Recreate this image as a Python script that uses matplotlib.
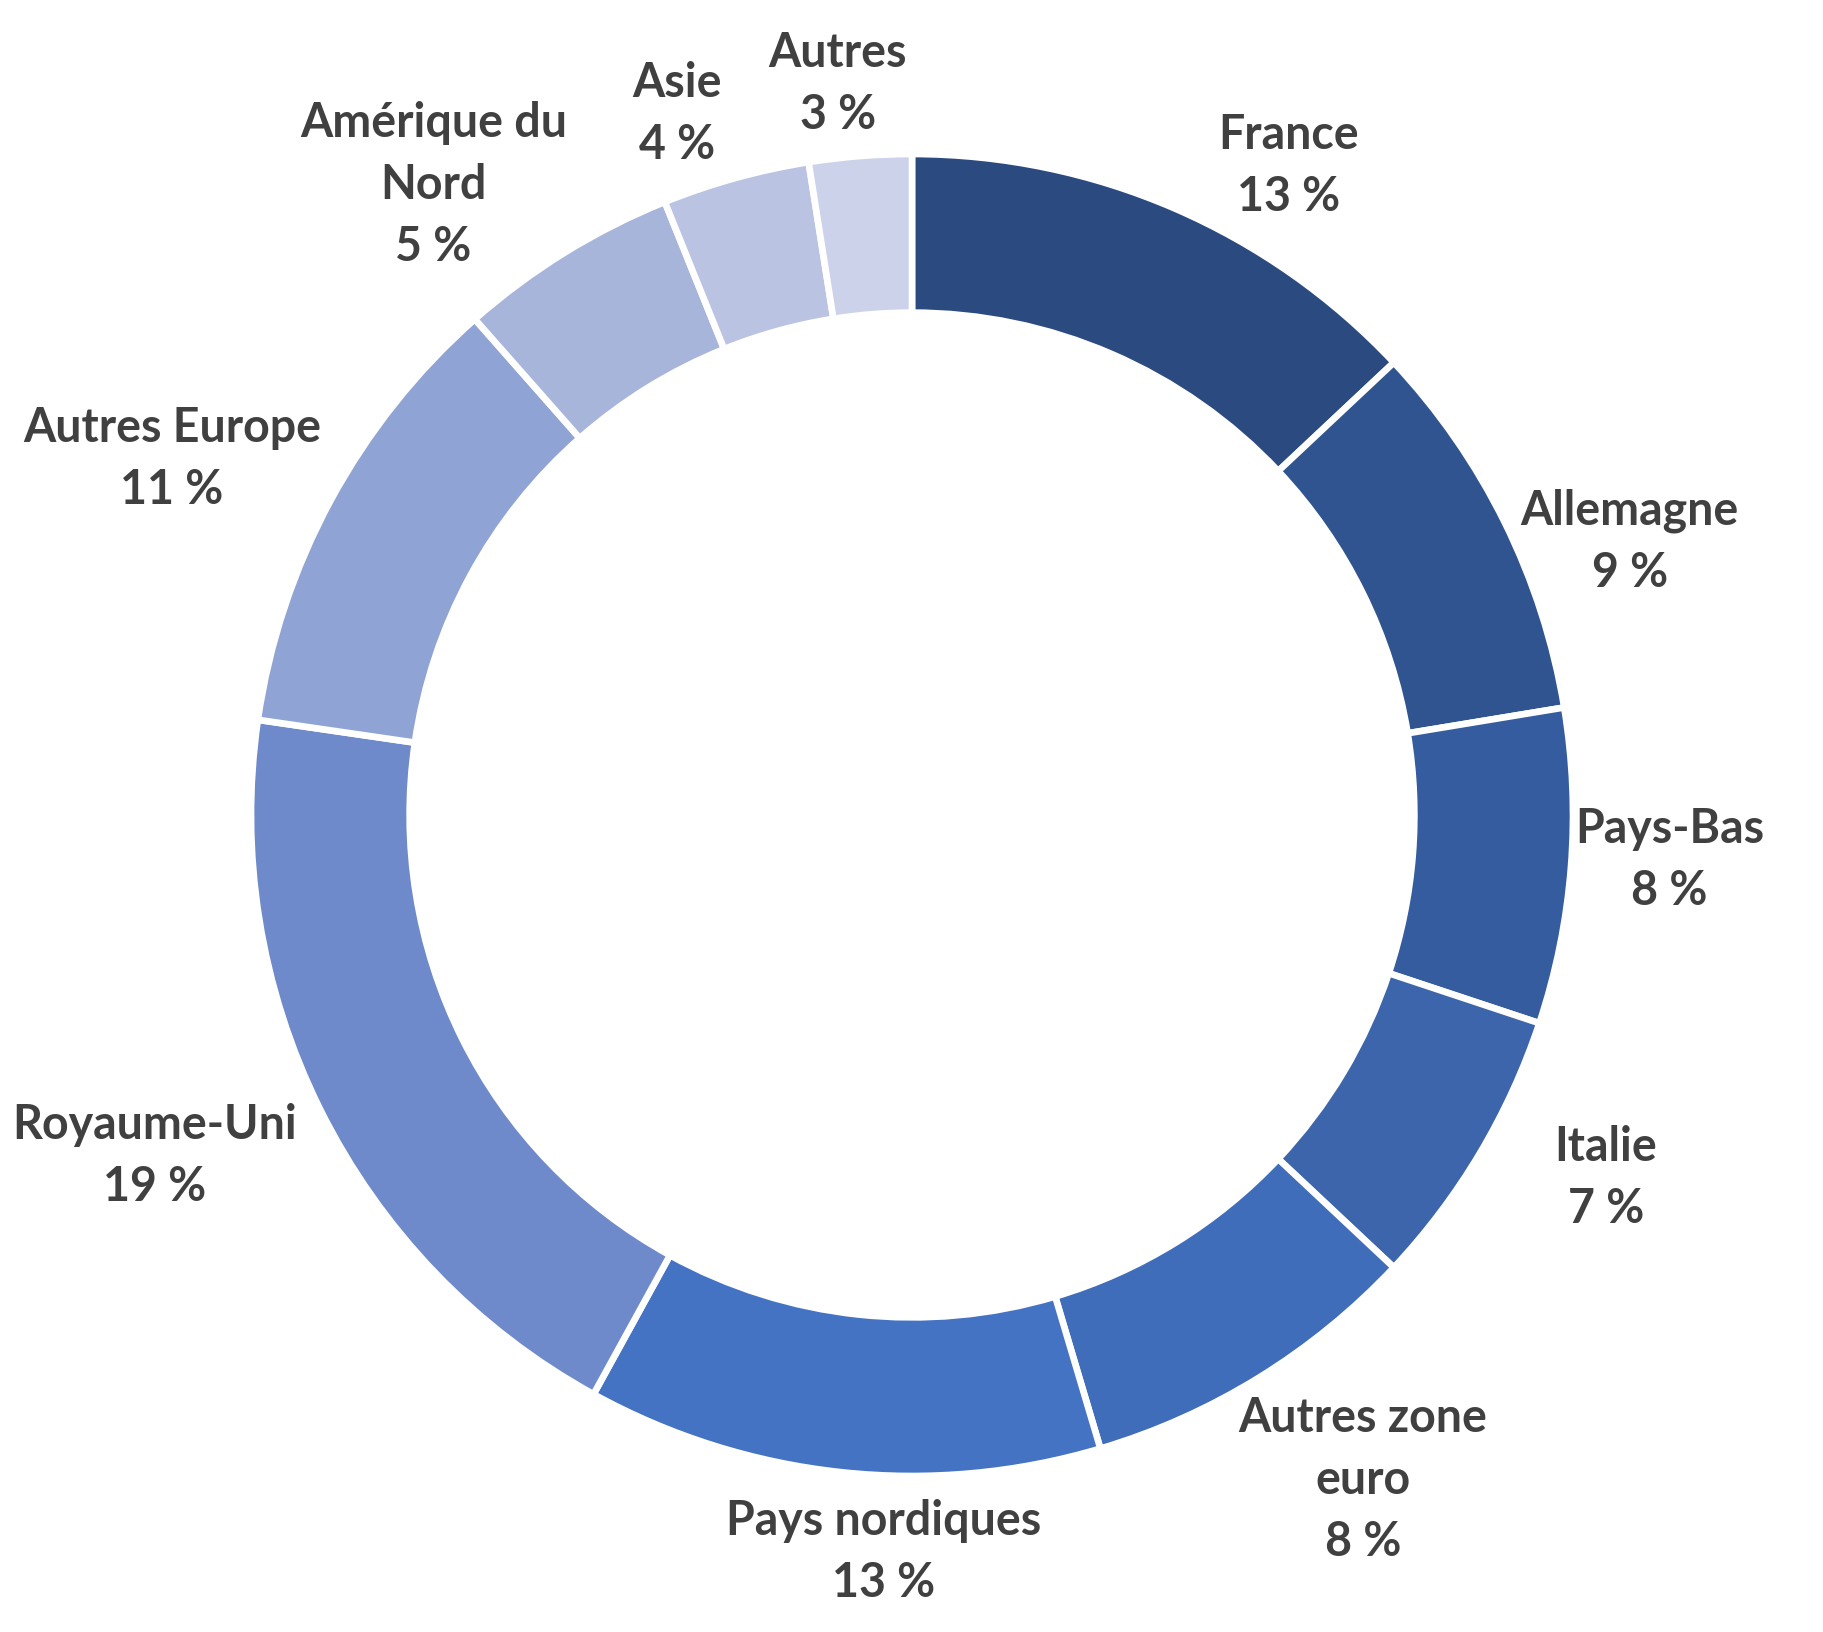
import numpy as np
import matplotlib
matplotlib.use("Agg")
import matplotlib.pyplot as plt

# Répartition géographique (en % du total)
pays = ["France", "Allemagne", "Pays-Bas", "Italie", "Autres zone\neuro",
        "Pays nordiques", "Royaume-Uni", "Autres Europe", "Amérique du\nNord",
        "Asie", "Autres"]
parts = [13.0, 9.4, 7.7, 6.9, 8.4, 12.6, 19.3, 11.2, 5.4, 3.6, 2.5]
etiquettes_pct = ["13 %", "9 %", "8 %", "7 %", "8 %", "13 %", "19 %", "11 %", "5 %", "4 %", "3 %"]

couleurs = ["#2B4A80", "#30548F", "#345C9F", "#3C65AC", "#406DB9", "#4573C4",
            "#6E8ACA", "#8FA4D4", "#A8B5DA", "#BAC3E2", "#CBD2E9"]

# placement des étiquettes (rayon relatif, décalage angulaire en degrés)
label_r = [1.137, 1.162, 1.148, 1.184, 1.215, 1.114, 1.256, 1.243, 1.198, 1.120, 1.113]
label_dec = [6.7, 5.4, -1.2, -3.2, -2.5, -3.9, 2.3, -2.7, -5.5, -3.0, -1.3]

W, H = 1824, 1633
cx, cy, R = 912, 816, 661

fig = plt.figure(figsize=(W / 100, H / 100), dpi=100)
ax = fig.add_axes([0, 0, 1, 1])

ax.pie(parts, colors=couleurs, startangle=90, counterclock=False, radius=1.0,
       wedgeprops=dict(width=0.24, edgecolor="white", linewidth=4.8),
       frame=True)
ax.set_xlim(-cx / R, (W - cx) / R)
ax.set_ylim(-(H - cy) / R, cy / R)
ax.axis("off")

cum = np.cumsum([0] + parts[:-1])
total = sum(parts)
for i, nom in enumerate(pays):
    milieu = (cum[i] + parts[i] / 2) / total * 360 + label_dec[i]
    a = np.deg2rad(milieu)
    x = label_r[i] * np.sin(a)
    y = label_r[i] * np.cos(a)
    ax.text(x, y, nom + "\n" + etiquettes_pct[i], ha="center", va="center",
            fontsize=33.5, fontweight="bold", family=["Lato", "DejaVu Sans"],
            color="#404040", linespacing=1.5)

fig.savefig("out.png", dpi=100)
